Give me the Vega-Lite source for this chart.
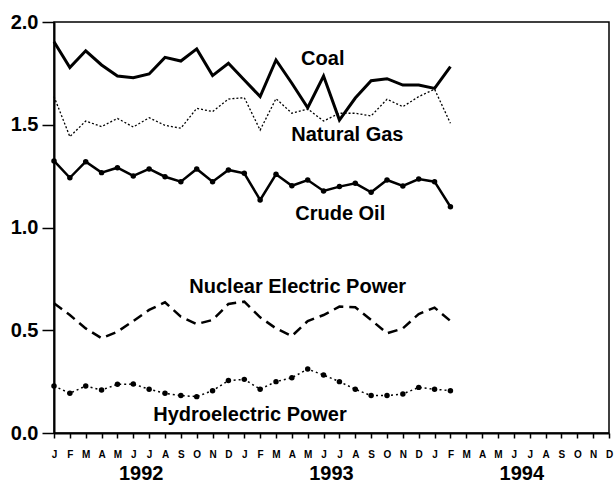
{
  "$schema": "https://vega.github.io/schema/vega-lite/v6.json",
  "width": 555,
  "height": 411,
  "autosize": {"type": "none"},
  "padding": {"left": 54, "top": 22, "right": 5, "bottom": 51},
  "background": "white",
  "config": {
    "view": {"stroke": "black", "strokeWidth": 1.5},
    "font": "Liberation Sans"
  },
  "datasets": {
    "coal": [
      {"m":0,"v":1.904},{"m":1,"v":1.778},{"m":2,"v":1.860},{"m":3,"v":1.791},{"m":4,"v":1.737},{"m":5,"v":1.729},{"m":6,"v":1.747},{"m":7,"v":1.828},{"m":8,"v":1.810},{"m":9,"v":1.869},{"m":10,"v":1.739},{"m":11,"v":1.799},{"m":12,"v":1.718},{"m":13,"v":1.637},{"m":14,"v":1.815},{"m":15,"v":1.702},{"m":16,"v":1.583},{"m":17,"v":1.737},{"m":18,"v":1.523},{"m":19,"v":1.630},{"m":20,"v":1.714},{"m":21,"v":1.724},{"m":22,"v":1.693},{"m":23,"v":1.693},{"m":24,"v":1.677},{"m":25,"v":1.783}
    ],
    "gas": [
      {"m":0,"v":1.637},{"m":1,"v":1.442},{"m":2,"v":1.518},{"m":3,"v":1.491},{"m":4,"v":1.531},{"m":5,"v":1.489},{"m":6,"v":1.534},{"m":7,"v":1.497},{"m":8,"v":1.483},{"m":9,"v":1.580},{"m":10,"v":1.564},{"m":11,"v":1.625},{"m":12,"v":1.632},{"m":13,"v":1.474},{"m":14,"v":1.627},{"m":15,"v":1.556},{"m":16,"v":1.577},{"m":17,"v":1.518},{"m":18,"v":1.556},{"m":19,"v":1.556},{"m":20,"v":1.543},{"m":21,"v":1.624},{"m":22,"v":1.588},{"m":23,"v":1.637},{"m":24,"v":1.673},{"m":25,"v":1.507}
    ],
    "oil": [
      {"m":0,"v":1.324},{"m":1,"v":1.242},{"m":2,"v":1.320},{"m":3,"v":1.267},{"m":4,"v":1.291},{"m":5,"v":1.251},{"m":6,"v":1.285},{"m":7,"v":1.247},{"m":8,"v":1.223},{"m":9,"v":1.285},{"m":10,"v":1.223},{"m":11,"v":1.280},{"m":12,"v":1.264},{"m":13,"v":1.134},{"m":14,"v":1.259},{"m":15,"v":1.203},{"m":16,"v":1.231},{"m":17,"v":1.178},{"m":18,"v":1.199},{"m":19,"v":1.215},{"m":20,"v":1.171},{"m":21,"v":1.231},{"m":22,"v":1.202},{"m":23,"v":1.236},{"m":24,"v":1.223},{"m":25,"v":1.101}
    ],
    "nuclear": [
      {"m":0,"v":0.631},{"m":1,"v":0.574},{"m":2,"v":0.509},{"m":3,"v":0.461},{"m":4,"v":0.493},{"m":5,"v":0.545},{"m":6,"v":0.599},{"m":7,"v":0.636},{"m":8,"v":0.566},{"m":9,"v":0.530},{"m":10,"v":0.550},{"m":11,"v":0.628},{"m":12,"v":0.639},{"m":13,"v":0.563},{"m":14,"v":0.509},{"m":15,"v":0.472},{"m":16,"v":0.545},{"m":17,"v":0.574},{"m":18,"v":0.615},{"m":19,"v":0.612},{"m":20,"v":0.550},{"m":21,"v":0.485},{"m":22,"v":0.509},{"m":23,"v":0.579},{"m":24,"v":0.610},{"m":25,"v":0.545}
    ],
    "hydro": [
      {"m":0,"v":0.229},{"m":1,"v":0.193},{"m":2,"v":0.229},{"m":3,"v":0.209},{"m":4,"v":0.237},{"m":5,"v":0.238},{"m":6,"v":0.213},{"m":7,"v":0.193},{"m":8,"v":0.182},{"m":9,"v":0.177},{"m":10,"v":0.206},{"m":11,"v":0.255},{"m":12,"v":0.261},{"m":13,"v":0.213},{"m":14,"v":0.250},{"m":15,"v":0.269},{"m":16,"v":0.311},{"m":17,"v":0.282},{"m":18,"v":0.250},{"m":19,"v":0.213},{"m":20,"v":0.182},{"m":21,"v":0.182},{"m":22,"v":0.190},{"m":23,"v":0.222},{"m":24,"v":0.213},{"m":25,"v":0.206}
    ],
    "labels": [
      {"m":16.95,"v":1.792,"t":"Coal"},
      {"m":18.5,"v":1.419,"t":"Natural Gas"},
      {"m":18.05,"v":1.037,"t":"Crude Oil"},
      {"m":15.37,"v":0.680,"t":"Nuclear Electric Power"},
      {"m":12.36,"v":0.058,"t":"Hydroelectric Power"}
    ],
    "years": [
      {"m":5.5,"v":-0.246,"t":"1992"},
      {"m":17.5,"v":-0.246,"t":"1993"},
      {"m":29.5,"v":-0.246,"t":"1994"}
    ]
  },
  "encoding": {
    "x": {
      "field": "m", "type": "quantitative",
      "scale": {"domain": [0, 35], "nice": false, "zero": false},
      "axis": {
        "title": null,
        "values": [0,1,2,3,4,5,6,7,8,9,10,11,12,13,14,15,16,17,18,19,20,21,22,23,24,25,26,27,28,29,30,31,32,33,34,35],
        "labelExpr": "['J','F','M','A','M','J','J','A','S','O','N','D'][datum.value % 12]",
        "grid": false,
        "domainColor": "black", "domainWidth": 2,
        "tickColor": "black", "tickWidth": 1.5, "tickSize": 5,
        "labelFont": "Liberation Sans", "labelFontWeight": "bold", "labelFontSize": 10,
        "labelColor": "black", "labelPadding": 11, "labelOverlap": false, "labelFlush": false
      }
    },
    "y": {
      "field": "v", "type": "quantitative",
      "scale": {"domain": [0, 2], "nice": false},
      "axis": {
        "title": null,
        "values": [0, 0.5, 1, 1.5, 2],
        "format": ".1f",
        "grid": false,
        "domainColor": "black", "domainWidth": 2,
        "tickColor": "black", "tickWidth": 1.5, "tickSize": 12,
        "labelFont": "Liberation Sans", "labelFontWeight": "bold", "labelFontSize": 20,
        "labelColor": "black", "labelPadding": 4
      }
    }
  },
  "layer": [
    {"data": {"name": "coal"}, "mark": {"type": "line", "color": "black", "strokeWidth": 3}},
    {"data": {"name": "gas"}, "mark": {"type": "line", "color": "black", "strokeWidth": 1.3, "strokeDash": [2, 2]}},
    {"data": {"name": "oil"}, "mark": {"type": "line", "color": "black", "strokeWidth": 2.5, "point": {"filled": true, "color": "black", "size": 30}}},
    {"data": {"name": "nuclear"}, "mark": {"type": "line", "color": "black", "strokeWidth": 2.5, "strokeDash": [10, 6]}},
    {"data": {"name": "hydro"}, "mark": {"type": "line", "color": "black", "strokeWidth": 1.5, "strokeDash": [2, 3], "point": {"filled": true, "color": "black", "size": 30}}},
    {"data": {"name": "labels"}, "mark": {"type": "text", "color": "black", "font": "Liberation Sans", "fontWeight": "bold", "fontSize": 20, "align": "center", "baseline": "alphabetic"}, "encoding": {"text": {"field": "t"}}},
    {"data": {"name": "years"}, "mark": {"type": "text", "color": "black", "font": "Liberation Sans", "fontWeight": "bold", "fontSize": 20, "align": "center", "baseline": "bottom", "clip": false}, "encoding": {"text": {"field": "t"}}}
  ]
}
